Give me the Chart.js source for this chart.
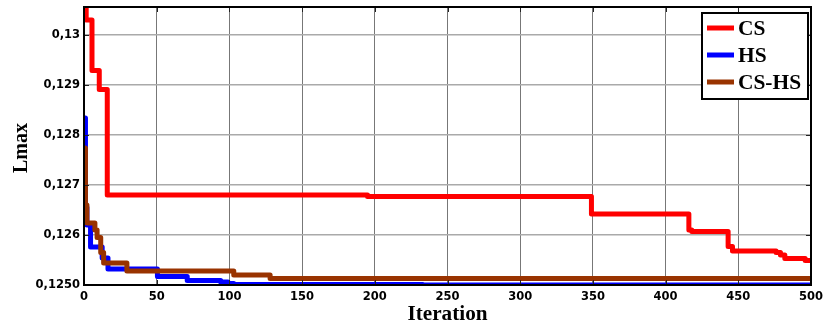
<!DOCTYPE html>
<html>
<head>
<meta charset="utf-8">
<script src="https://cdn.jsdelivr.net/npm/chart.js@4"></script>
<style>
  html, body { margin: 0; padding: 0; background: #fff; }
  #wrap { width: 824px; height: 325px; }
</style>
</head>
<body>
<div id="wrap"><canvas id="chart"></canvas></div>
<script>
// Convergence curves, step points (iteration -> Lmax)
const seriesNames = ['CS', 'HS', 'CS-HS']
const seriesColors = ['#ff0000', '#0000ff', '#993300']

const csIter = [0, 1.5, 5.5, 10.5, 16, 195, 349, 416, 418, 443, 446, 476, 479, 482, 496, 500]
const csVal = [0.1312, 0.1303, 0.12929, 0.12891, 0.1268, 0.12677, 0.12642, 0.1261, 0.12607, 0.12577, 0.12568, 0.12565, 0.1256, 0.12553, 0.12549, 0.12549]

const hsIter = [0, 1, 2, 4.5, 12.5, 16.5, 50.5, 71, 94, 99, 103, 233, 500]
const hsVal = [0.12834, 0.12655, 0.1262, 0.12576, 0.12554, 0.12532, 0.12517, 0.12509, 0.12506, 0.12503, 0.12501, 0.125, 0.125]

const cshsIter = [0, 1, 2, 7.5, 9, 11.5, 13.5, 29.5, 103, 128, 500]
const cshsVal = [0.12774, 0.1266, 0.12624, 0.1261, 0.12595, 0.12565, 0.12544, 0.12528, 0.1252, 0.12513, 0.12513]

const xTicks = [0, 50, 100, 150, 200, 250, 300, 350, 400, 450, 500]
const yTicks = [0.125, 0.126, 0.127, 0.128, 0.129, 0.13]
const yTickLabels = ['0,1250', '0,126', '0,127', '0,128', '0,129', '0,13']

const toPoints = (xs, ys) => xs.map((x, i) => ({ x: x, y: ys[i] }))

const tickFont = { family: '"DejaVu Sans", sans-serif', size: 11.5, weight: 'bold' }
const serif = '"Liberation Serif", "Times New Roman", serif'

// keep the plot box exactly where the layout padding puts it
const noLabelPadding = s => {
  s.paddingTop = 0; s.paddingBottom = 0; s.paddingLeft = 0; s.paddingRight = 0
}

// Frame, inner tick stubs, axis titles and the boxed legend
const decorations = {
  id: 'decorations',
  afterDraw(chart) {
    const { ctx, chartArea: a } = chart
    const xs = chart.scales.x, ys = chart.scales.y
    ctx.save()

    // small tick stubs on every side
    ctx.strokeStyle = '#222'
    ctx.lineWidth = 1
    ctx.beginPath()
    xTicks.forEach(v => {
      const px = Math.round(xs.getPixelForValue(v)) + 0.5
      ctx.moveTo(px, a.top); ctx.lineTo(px, a.top + 5)
      ctx.moveTo(px, a.bottom); ctx.lineTo(px, a.bottom - 5)
    })
    yTicks.forEach(v => {
      const py = Math.round(ys.getPixelForValue(v)) + 0.5
      ctx.moveTo(a.left, py); ctx.lineTo(a.left + 5, py)
      ctx.moveTo(a.right, py); ctx.lineTo(a.right - 5, py)
    })
    ctx.stroke()

    // plot frame
    ctx.strokeStyle = '#000'
    ctx.lineWidth = 2
    ctx.strokeRect(a.left, a.top, a.right - a.left, a.bottom - a.top)

    // axis titles
    ctx.fillStyle = '#000'
    ctx.font = 'bold 20px ' + serif
    ctx.textAlign = 'center'
    ctx.textBaseline = 'alphabetic'
    ctx.save()
    ctx.translate((a.left + a.right) / 2, 320)
    ctx.scale(1.06, 1)
    ctx.fillText('Iteration', 0, 0)
    ctx.restore()
    ctx.save()
    ctx.translate(27, 148)
    ctx.rotate(-Math.PI / 2)
    ctx.fillText('Lmax', 0, 0)
    ctx.restore()

    // legend box
    const bx = 702, by = 13, bw = 106, bh = 86
    ctx.fillStyle = '#fff'
    ctx.fillRect(bx, by, bw, bh)
    ctx.strokeStyle = '#000'
    ctx.lineWidth = 2
    ctx.strokeRect(bx, by, bw, bh)
    ctx.textAlign = 'left'
    ctx.font = 'bold 20px ' + serif
    seriesNames.forEach((name, i) => {
      const cy = by + 15 + i * 27
      ctx.strokeStyle = seriesColors[i]
      ctx.lineWidth = 5
      ctx.beginPath()
      ctx.moveTo(707, cy)
      ctx.lineTo(734, cy)
      ctx.stroke()
      ctx.save()
      ctx.translate(738, cy + 7)
      ctx.scale(1.07, 1)
      ctx.fillStyle = '#000'
      ctx.fillText(name, 0, 0)
      ctx.restore()
    })
    ctx.restore()
  }
}

const datasets = [
  { label: seriesNames[0], data: toPoints(csIter, csVal), borderColor: seriesColors[0], order: 0 },
  { label: seriesNames[1], data: toPoints(hsIter, hsVal), borderColor: seriesColors[1], order: 2 },
  { label: seriesNames[2], data: toPoints(cshsIter, cshsVal), borderColor: seriesColors[2], order: 1 }
].map(d => Object.assign(d, {
  borderWidth: 5,
  pointRadius: 0,
  stepped: 'before',
  tension: 0,
  clip: 0,
  borderJoinStyle: 'round'
}))

new Chart(document.getElementById('chart'), {
  type: 'line',
  data: { datasets: datasets },
  options: {
    responsive: true,
    maintainAspectRatio: false,
    animation: false,
    layout: { padding: { top: 7, right: 13, left: 0, bottom: 0 } },
    plugins: {
      legend: { display: false },
      tooltip: { enabled: false }
    },
    scales: {
      x: {
        type: 'linear',
        min: 0,
        max: 500,
        afterFit: s => { s.height = 40; noLabelPadding(s) },
        afterBuildTicks: s => { s.ticks = xTicks.map(v => ({ value: v })) },
        grid: { color: '#777', lineWidth: 1, drawTicks: false },
        border: { display: false },
        ticks: { color: '#000', font: tickFont, padding: 5, maxRotation: 0 }
      },
      y: {
        type: 'linear',
        min: 0.125,
        max: 0.13056,
        afterFit: s => { s.width = 84; noLabelPadding(s) },
        afterBuildTicks: s => { s.ticks = yTicks.map(v => ({ value: v })) },
        grid: { color: '#aaa', lineWidth: 1.5, drawTicks: false },
        border: { display: false },
        ticks: {
          color: '#000',
          font: tickFont,
          padding: 4,
          callback: (v, i) => yTickLabels[i]
        }
      }
    }
  },
  plugins: [decorations]
})
</script>
</body>
</html>
